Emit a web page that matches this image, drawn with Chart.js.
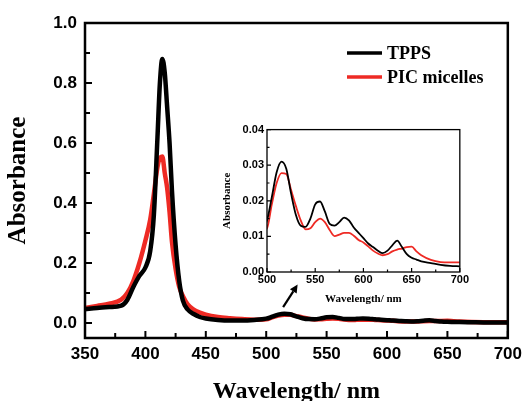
<!DOCTYPE html>
<html>
<head>
<meta charset="utf-8">
<script src="https://cdn.jsdelivr.net/npm/chart.js@4.4.1/dist/chart.umd.min.js"></script>
<style>
  body { margin: 0; background: #fff; }
  #wrap { position: relative; width: 528px; height: 401px; }
  #main { position: absolute; left: 0; top: 0; }
  #inset { position: absolute; left: 215px; top: 120px; }
</style>
</head>
<body>
<div id="wrap">
  <canvas id="main" width="528" height="401"></canvas>
  <canvas id="inset" width="255" height="190"></canvas>
</div>
<script>
const wavelength = [350, 360, 370, 380, 385, 390, 395, 400, 404, 407, 410, 412, 414, 416, 418, 420, 422,
  425, 428, 431, 435, 440, 445, 450, 460, 470, 480, 490, 500, 505, 510, 515, 520, 525, 530, 535, 540,
  545, 550, 555, 560, 565, 570, 575, 580, 585, 590, 595, 600, 605, 610, 615, 620, 625, 630, 635, 640,
  645, 650, 655, 660, 670, 680, 690, 700];
const tpps = [0.046, 0.050, 0.053, 0.058, 0.077, 0.120, 0.157, 0.185, 0.240, 0.360, 0.620, 0.800, 0.880,
  0.835, 0.720, 0.600, 0.440, 0.260, 0.140, 0.075, 0.045, 0.030, 0.020, 0.015, 0.010, 0.008, 0.008,
  0.010, 0.0145, 0.021, 0.028, 0.031, 0.029, 0.022, 0.016, 0.013, 0.0127, 0.015, 0.019, 0.0198, 0.017,
  0.0135, 0.013, 0.014, 0.0153, 0.0145, 0.0125, 0.011, 0.0095, 0.008, 0.007, 0.006, 0.0053, 0.006,
  0.0075, 0.0088, 0.007, 0.005, 0.004, 0.0035, 0.003, 0.0025, 0.002, 0.0017, 0.0016];
const pic = [0.050, 0.057, 0.064, 0.078, 0.100, 0.140, 0.200, 0.275, 0.345, 0.430, 0.520, 0.550, 0.555,
  0.500, 0.450, 0.370, 0.270, 0.180, 0.120, 0.090, 0.062, 0.045, 0.035, 0.028, 0.020, 0.016, 0.013,
  0.011, 0.0123, 0.019, 0.025, 0.0278, 0.0275, 0.023, 0.0185, 0.0145, 0.012, 0.0123, 0.014, 0.015,
  0.014, 0.0118, 0.0101, 0.0105, 0.011, 0.011, 0.0102, 0.009, 0.0083, 0.0072, 0.006, 0.0052, 0.0047,
  0.005, 0.0058, 0.0063, 0.0066, 0.007, 0.0071, 0.0058, 0.0047, 0.0034, 0.0028, 0.0027, 0.0027];
const seriesNames = ["TPPS", "PIC micelles"];
const mainXTicks = [350, 400, 450, 500, 550, 600, 650, 700];
const mainYTicks = [0, 0.2, 0.4, 0.6, 0.8, 1.0];
const insetXTicks = [500, 550, 600, 650, 700];
const insetYTicks = [0, 0.01, 0.02, 0.03, 0.04];
// arrow pointing from the small Q-bands up to the inset (data units)
const arrowFrom = [514, 0.053];
const arrowTo = [526, 0.128];

const RED = "#ee2a24";
const SERIF = "'Liberation Serif', 'Times New Roman', serif";
const SANS = "'Liberation Sans', Arial, sans-serif";

function points(ys) {
  return wavelength.map((x, i) => ({ x: x, y: ys[i] }));
}

// box around the plot plus inward ticks on bottom and left
const frame = {
  id: "frame",
  afterDatasetsDraw(chart, args, o) {
    const { ctx, chartArea: a, scales } = chart;
    const xs = scales.x, ys = scales.y;
    ctx.save();
    ctx.strokeStyle = "#000";
    ctx.lineWidth = o.tickWidth;
    ctx.beginPath();
    for (let i = 0; xs.min + i * o.xMinor <= xs.max + 1e-9; i++) {
      const px = xs.getPixelForValue(xs.min + i * o.xMinor);
      const len = i % 2 === 0 ? o.major : o.minor;
      ctx.moveTo(px, a.bottom);
      ctx.lineTo(px, a.bottom - len);
    }
    for (let i = 0; i * o.yMinor <= ys.max + 1e-9; i++) {
      const py = ys.getPixelForValue(i * o.yMinor);
      const len = i % 2 === 0 ? o.major : o.minor;
      ctx.moveTo(a.left, py);
      ctx.lineTo(a.left + len, py);
    }
    ctx.stroke();
    ctx.lineWidth = o.frameWidth;
    ctx.strokeRect(a.left, a.top, a.right - a.left, a.bottom - a.top);
    ctx.restore();
  }
};

const legendBox = {
  id: "legendBox",
  afterDraw(chart) {
    const ctx = chart.ctx;
    ctx.save();
    ctx.font = "bold 18px " + SERIF;
    ctx.textBaseline = "middle";
    chart.data.datasets.forEach((ds, i) => {
      const y = 53 + i * 24;
      ctx.strokeStyle = ds.borderColor;
      ctx.lineWidth = 3.5;
      ctx.beginPath();
      ctx.moveTo(347, y);
      ctx.lineTo(382, y);
      ctx.stroke();
      ctx.fillStyle = "#000";
      ctx.fillText(ds.label, 387, y + 1);
    });
    ctx.restore();
  }
};

const arrow = {
  id: "arrow",
  afterDraw(chart) {
    const { ctx, scales: { x, y } } = chart;
    const x0 = x.getPixelForValue(arrowFrom[0]), y0 = y.getPixelForValue(arrowFrom[1]);
    const x1 = x.getPixelForValue(arrowTo[0]), y1 = y.getPixelForValue(arrowTo[1]);
    const ang = Math.atan2(y1 - y0, x1 - x0);
    const c = Math.cos(ang), s = Math.sin(ang);
    const head = 8, half = 4;
    ctx.save();
    ctx.strokeStyle = "#000";
    ctx.fillStyle = "#000";
    ctx.lineWidth = 2.2;
    ctx.beginPath();
    ctx.moveTo(x0, y0);
    ctx.lineTo(x1 - head * c, y1 - head * s);
    ctx.stroke();
    ctx.beginPath();
    ctx.moveTo(x1, y1);
    ctx.lineTo(x1 - head * c + half * s, y1 - head * s - half * c);
    ctx.lineTo(x1 - head * c - half * s, y1 - head * s + half * c);
    ctx.closePath();
    ctx.fill();
    ctx.restore();
  }
};

function datasets(width) {
  return [
    { label: seriesNames[0], data: points(tpps), borderColor: "#000", borderWidth: width },
    { label: seriesNames[1], data: points(pic), borderColor: RED, borderWidth: width }
  ].map(d => Object.assign(d, { pointRadius: 0, cubicInterpolationMode: "monotone", fill: false }));
}

function axis(min, max, tickList, digits, fontSize, pad, fit, title) {
  return {
    type: "linear", min: min, max: max,
    afterBuildTicks: s => { s.ticks = tickList.map(v => ({ value: v })); },
    afterFit: fit,
    grid: { display: false, drawTicks: false },
    border: { display: false },
    ticks: {
      autoSkip: false, maxRotation: 0, padding: pad, color: "#000",
      font: { family: SANS, size: fontSize, weight: "bold" },
      callback: v => digits === 0 ? String(v) : Number(v).toFixed(digits)
    },
    title: Object.assign({ display: true, color: "#000" }, title)
  };
}

new Chart(document.getElementById("main"), {
  type: "line",
  data: { datasets: datasets(4.5) },
  options: {
    responsive: false,
    animation: false,
    events: [],
    layout: { padding: { top: 23, right: 15, left: 0, bottom: 0 } },
    scales: {
      x: axis(350, 700, mainXTicks, 0, 17, 6, s => { s.height = 63; }, {
        text: "Wavelength/ nm",
        font: { family: SERIF, size: 24, weight: "bold", lineHeight: 0.75 },
        padding: { top: 0, bottom: 0 }
      }),
      y: axis(-0.05, 1.0, mainYTicks, 1, 17, 8, s => { s.width = 85; }, {
        text: "Absorbance",
        font: { family: SERIF, size: 25, weight: "bold" },
        padding: { top: 4, bottom: 0 }
      })
    },
    plugins: {
      legend: { display: false },
      tooltip: { enabled: false },
      frame: { tickWidth: 2, major: 7, minor: 5, frameWidth: 2.5, xMinor: 25, yMinor: 0.1 }
    }
  },
  plugins: [frame, legendBox, arrow]
});

new Chart(document.getElementById("inset"), {
  type: "line",
  data: { datasets: datasets(1.8) },
  options: {
    responsive: false,
    animation: false,
    events: [],
    layout: { padding: { top: 9, right: 8, left: 0, bottom: 0 } },
    scales: {
      x: axis(500, 700, insetXTicks, 0, 11, 1, s => { s.height = 38; }, {
        text: "Wavelength/ nm",
        font: { family: SERIF, size: 11, weight: "bold" },
        padding: { top: 0, bottom: 4 }
      }),
      y: axis(0, 0.04, insetYTicks, 2, 11, 3, s => { s.width = 52; }, {
        text: "Absorbance",
        font: { family: SERIF, size: 11, weight: "bold" },
        padding: { top: 6, bottom: 0 }
      })
    },
    plugins: {
      legend: { display: false },
      tooltip: { enabled: false },
      frame: { tickWidth: 1.2, major: 4, minor: 2.5, frameWidth: 1.3, xMinor: 25, yMinor: 0.005 }
    }
  },
  plugins: [frame]
});
</script>
</body>
</html>
